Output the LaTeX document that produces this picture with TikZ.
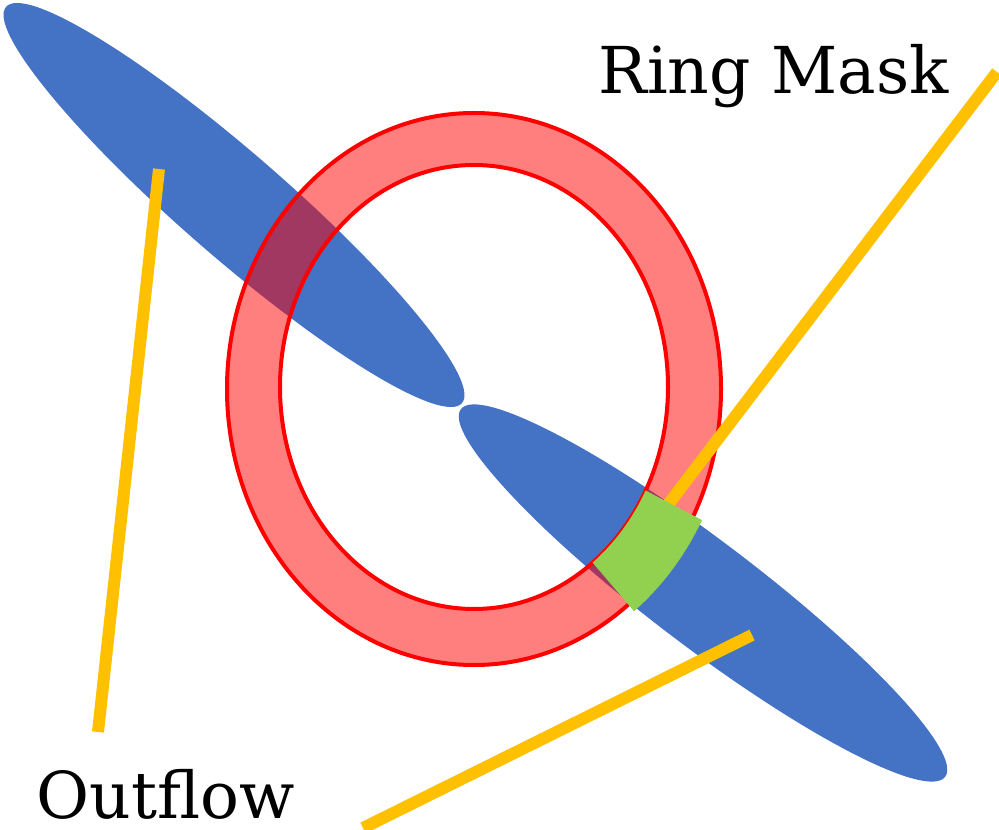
\documentclass[tikz,border=0pt]{standalone}
\usepackage{fontspec}
\newfontfamily\lblfont{DejaVu Serif}

\definecolor{lobeblue}{HTML}{4472C4}
\definecolor{pointeryellow}{HTML}{FFC000}
\definecolor{maskgreen}{HTML}{92D050}

\tikzset{every picture/.style={line width=0.75pt},
  lobe/.style={fill=lobeblue},
  ringband/.style={fill=red, fill opacity=0.5, even odd rule},
  ringedge/.style={draw=red, line width=3pt},
  pointer/.style={draw=pointeryellow, line width=9pt},
  masked/.style={fill=maskgreen},
  lbltext/.style={font=\lblfont\fontsize{48.5}{54}\selectfont, inner sep=0pt, anchor=base west}}

\begin{document}
\begin{tikzpicture}[x=0.75pt,y=0.75pt,yscale=-1,xscale=1]
\useasboundingbox (0,0) rectangle (999,830);

%Shape: Ellipse (upper lobe)
\fill [lobe, rotate around={41:(234,205)}] (234,205) ellipse [x radius=302, y radius=52];
%Shape: Ellipse (lower lobe)
\fill [lobe, rotate around={37.2:(703,593)}] (703,593) ellipse [x radius=304, y radius=53];

%Shape: Ring
\fill [ringband] (474,389) ellipse [x radius=247, y radius=276] (474,387) ellipse [x radius=194, y radius=222];
\draw [ringedge] (474,389) ellipse [x radius=247, y radius=276];
\draw [ringedge] (474,387) ellipse [x radius=194, y radius=222];

% Text Node
\node [lbltext] (ringlbl) at (598,94) {Ring Mask};
% Text Node
\node [lbltext] (outlbl) at (36,818) {Outflow};

\coordinate (lobetop) at (159,169);
\coordinate (outfoot) at (98,732);
\coordinate (lobebot) at (752,635);
\coordinate (outtail) at (363,828);
\coordinate (masktip) at (664,510);
\coordinate (masktail) at (997,72);

%Straight Lines
\draw [pointer] (outfoot) -- (lobetop);
%Straight Lines
\draw [pointer] (outtail) -- (lobebot);
%Straight Lines
\draw [pointer] (masktail) -- (masktip);

%Shape: Arc (masked part of the ring)
\fill [masked] (592.6,562.6) arc [start angle=52.3, end angle=27.8, x radius=194, y radius=222]
  -- (702.0,520.1) arc [start angle=27.5, end angle=51.5, x radius=257, y radius=284] -- cycle;

\end{tikzpicture}
\end{document}
